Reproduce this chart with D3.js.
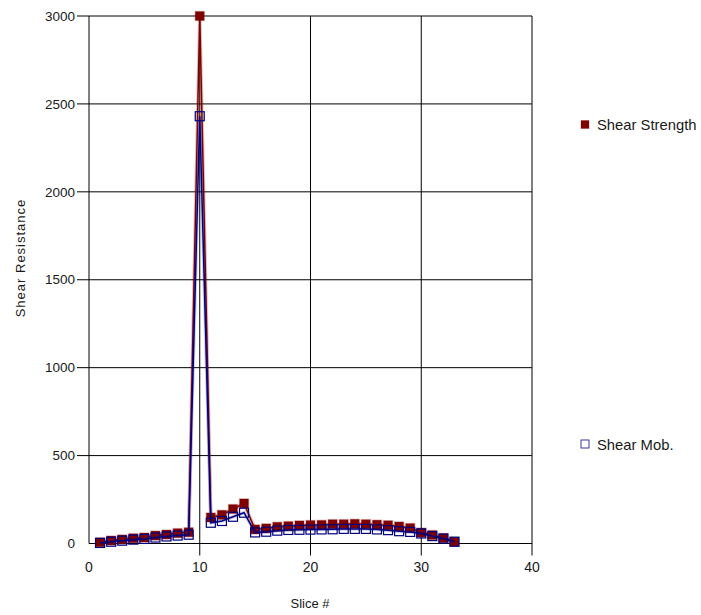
<!DOCTYPE html>
<html>
<head>
<meta charset="utf-8">
<script src="https://cdn.jsdelivr.net/npm/d3@7"></script>
<style>
  body { margin: 0; background: #fff; }
  text { font-family: Arial, "Liberation Sans", sans-serif; fill: #1a1a1a; }
</style>
</head>
<body>
<div id="chart"></div>
<script>
// slice numbers and the two series
const slices = d3.range(1, 34);
const shearStrength = [7, 17, 23, 30, 34, 45, 51, 59, 64, 3000, 148, 163, 196, 228, 80, 86, 95, 99, 103, 105,
  106, 110, 110, 112, 110, 107, 104, 97, 88, 62, 48, 31, 11];
const shearMob = [3, 10, 16, 22, 26, 34, 40, 45, 50, 2430, 118, 128, 152, 175, 63, 67, 73, 77, 78, 79,
  80, 81, 83, 83, 83, 80, 76, 70, 66, 57, 42, 28, 10];
const xTicks = [0, 10, 20, 30, 40];
const yTicks = [0, 500, 1000, 1500, 2000, 2500, 3000];

const width = 701, height = 615;
const svg = d3.select('#chart').append('svg')
  .attr('width', width)
  .attr('height', height);

const x = d3.scaleLinear().domain([0, 40]).range([89, 532]);
const y = d3.scaleLinear().domain([0, 3000]).range([543.5, 16]);

// grid lines, the non-zero ones stick out past the axes as ticks
const grid = svg.append('g').attr('stroke', '#000').attr('stroke-width', 1);
grid.selectAll('.hg')
  .data(yTicks)
  .join('line')
  .attr('x1', d => d === 0 ? x(0) : x(0) - 12)
  .attr('x2', x(40))
  .attr('y1', d => y(d))
  .attr('y2', d => y(d));
grid.selectAll('.vg')
  .data(xTicks)
  .join('line')
  .attr('x1', d => x(d))
  .attr('x2', d => x(d))
  .attr('y1', y(3000))
  .attr('y2', d => d === 0 ? y(0) : y(0) + 12);

// tick labels
svg.append('g').selectAll('text')
  .data(yTicks)
  .join('text')
  .attr('x', 75)
  .attr('y', d => y(d))
  .attr('dy', '0.35em')
  .attr('text-anchor', 'end')
  .attr('font-size', 13.5)
  .text(d => d);
svg.append('g').selectAll('text')
  .data(xTicks)
  .join('text')
  .attr('x', d => x(d))
  .attr('y', 572)
  .attr('text-anchor', 'middle')
  .attr('font-size', 14)
  .text(d => d);

// axis titles
svg.append('text')
  .attr('transform', 'translate(25,258) rotate(-90)')
  .attr('text-anchor', 'middle')
  .attr('font-size', 13)
  .attr('letter-spacing', 1)
  .text('Shear Resistance');
svg.append('text')
  .attr('x', 310)
  .attr('y', 608)
  .attr('text-anchor', 'middle')
  .attr('font-size', 13)
  .text('Slice #');

const line = d3.line()
  .x((d, i) => x(slices[i]))
  .y(d => y(d));

function drawSeries(values, color, halo, filled) {
  const g = svg.append('g');
  g.append('path')
    .datum(values)
    .attr('fill', 'none')
    .attr('stroke', halo)
    .attr('stroke-width', 3.5)
    .attr('d', line);
  g.append('path')
    .datum(values)
    .attr('fill', 'none')
    .attr('stroke', color)
    .attr('stroke-width', 1.5)
    .attr('d', line);
  g.selectAll('rect')
    .data(values)
    .join('rect')
    .attr('x', (d, i) => x(slices[i]) - 4.5)
    .attr('y', d => y(d) - 4.5)
    .attr('width', 9)
    .attr('height', 9)
    .attr('fill', filled ? color : 'none')
    .attr('stroke', filled ? halo : color)
    .attr('stroke-width', filled ? 1.5 : 1.2);
}

drawSeries(shearStrength, '#800000', 'rgba(128,0,0,0.25)', true);
drawSeries(shearMob, '#000080', 'rgba(0,0,128,0.2)', false);

// legend
const legend = [
  { label: 'Shear Strength', color: '#800000', filled: true, cy: 124.5 },
  { label: 'Shear Mob.', color: '#000080', filled: false, cy: 444 }
];
const items = svg.append('g').selectAll('g')
  .data(legend)
  .join('g')
  .attr('transform', d => `translate(585,${d.cy})`);
items.append('rect')
  .attr('x', -4)
  .attr('y', -4)
  .attr('width', 8)
  .attr('height', 8)
  .attr('fill', d => d.filled ? d.color : 'none')
  .attr('stroke', d => d.filled ? 'rgba(128,0,0,0.3)' : '#3a3a9a')
  .attr('stroke-width', 1);
items.append('text')
  .attr('x', 12)
  .attr('dy', '0.38em')
  .attr('font-size', 14.8)
  .text(d => d.label);
</script>
</body>
</html>
